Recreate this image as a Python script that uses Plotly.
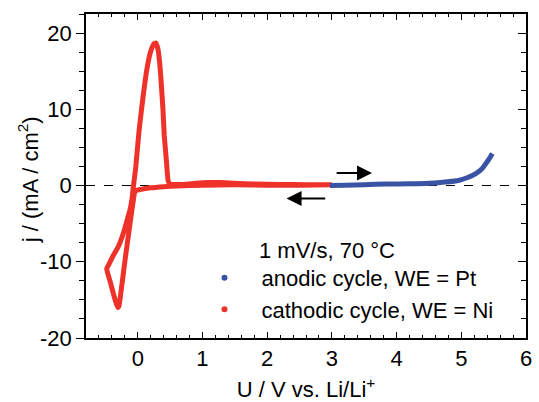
import plotly.graph_objects as go

# Cathodic cycle, WE = Ni (potential V, current density mA/cm2)
cath_u = [3.0, 2.5, 2.0, 1.5, 1.0, 0.6, 0.4, 0.2, 0.05, -0.04,
          -0.07, -0.12, -0.2, -0.26, -0.29, -0.31, -0.35, -0.42, -0.48,
          -0.45, -0.38, -0.3, -0.22, -0.16, -0.12, -0.09, -0.07, -0.03,
          0.02, 0.08, 0.14, 0.2, 0.25, 0.28, 0.31, 0.34, 0.37, 0.39, 0.41,
          0.44, 0.47, 0.5, 0.7, 0.9, 1.1, 1.3, 1.5, 1.8, 2.2, 2.6, 3.0]
cath_j = [0.1, 0.05, 0.05, 0.1, 0.05, -0.05, -0.15, -0.3, -0.5, -0.7,
          -2.0, -5.0, -10.0, -14.0, -15.8, -16.0, -15.0, -12.8, -10.9,
          -10.4, -9.2, -8.0, -6.2, -4.4, -3.2, -1.8, -0.3, 2.5,
          7.2, 11.5, 15.2, 17.6, 18.6, 18.7, 18.0, 16.0, 12.5, 9.9, 6.5,
          3.5, 0.6, 0.2, 0.15, 0.3, 0.4, 0.4, 0.3, 0.2, 0.15, 0.1, 0.1]

# Anodic cycle, WE = Pt
anod_u = [2.97, 3.2, 3.5, 3.84, 4.2, 4.51, 4.75, 4.97, 5.1, 5.23, 5.32, 5.38, 5.43, 5.48]
anod_j = [0.0, 0.03, 0.1, 0.2, 0.22, 0.3, 0.45, 0.7, 1.05, 1.6, 2.2, 2.9, 3.5, 4.2]

x_ticks = [0, 1, 2, 3, 4, 5, 6]
y_ticks = [-20, -10, 0, 10, 20]
y_ticktext = ["-20", "-10", "0", "10", "20"]

red = "#EE3129"
blue = "#3A53A4"
font = "Liberation Sans, Arial, sans-serif"
fs = 22
pad = "\u00a0\u2009"

fig = go.Figure()
fig.add_trace(go.Scatter(x=cath_u, y=cath_j, mode="lines",
                         line=dict(color=red, width=5, shape="spline", smoothing=0.4),
                         showlegend=False, hoverinfo="skip"))
fig.add_trace(go.Scatter(x=anod_u, y=anod_j, mode="lines",
                         line=dict(color=blue, width=5, shape="spline", smoothing=0.6),
                         showlegend=False, hoverinfo="skip"))
# legend entries (dots)
fig.add_trace(go.Scatter(x=[None], y=[None], mode="markers",
                         marker=dict(color=blue, size=6),
                         name=pad + "anodic cycle, WE = Pt"))
fig.add_trace(go.Scatter(x=[None], y=[None], mode="markers",
                         marker=dict(color=red, size=6),
                         name=pad + "cathodic cycle, WE = Ni"))
# invisible trace to anchor right axis
fig.add_trace(go.Scatter(x=[None], y=[None], yaxis="y2", showlegend=False))

fig.add_shape(type="line", xref="x", yref="y", x0=-0.8, x1=6, y0=0, y1=0,
              line=dict(color="black", width=1, dash="dash"), layer="below")

# scan direction arrows
fig.add_annotation(x=3.62, y=1.65, ax=3.05, ay=1.65, xref="x", yref="y",
                   axref="x", ayref="y", showarrow=True, arrowhead=2,
                   arrowsize=1.5, arrowwidth=2, arrowcolor="black", text="")
fig.add_annotation(x=2.3, y=-1.7, ax=2.92, ay=-1.7, xref="x", yref="y",
                   axref="x", ayref="y", showarrow=True, arrowhead=2,
                   arrowsize=1.5, arrowwidth=2, arrowcolor="black", text="")

fig.add_annotation(x=0.3885, y=0.2716, xref="paper", yref="paper",
                   xanchor="left", yanchor="middle", text="1 mV/s, 70 °C",
                   showarrow=False, font=dict(size=fs, color="black", family=font))

# y-axis title
fig.add_annotation(x=-0.131, y=0.488, xref="paper", yref="paper",
                   xanchor="center", yanchor="middle", textangle=-90,
                   text="j / (mA / cm<sup>2</sup>)", showarrow=False,
                   font=dict(size=fs, color="black", family=font))

fig.update_layout(
    width=539, height=402,
    margin=dict(l=86, r=13, t=14, b=64),
    paper_bgcolor="white", plot_bgcolor="white",
    font=dict(family=font, size=fs, color="black"),
    legend=dict(x=0.2545, y=0.2505, xanchor="left", yanchor="top",
                bgcolor="rgba(0,0,0,0)", font=dict(size=fs),
                tracegroupgap=0, itemwidth=43),
    xaxis=dict(range=[-0.8, 6], tickvals=x_ticks, ticks="inside", ticklen=6,
               tickwidth=1.3, tickcolor="black", showline=True, linecolor="black",
               linewidth=1.5, mirror="ticks", showgrid=False, zeroline=False,
               automargin=False,
               minor=dict(dtick=0.2, tick0=0, ticks="inside", ticklen=3.5,
                          tickwidth=1.2, tickcolor="black", showgrid=False),
               title=dict(text="U / V vs. Li/Li<sup>+</sup>", standoff=14,
                          font=dict(size=fs)),
               tickfont=dict(size=fs)),
    yaxis=dict(range=[-20, 22.5], tickvals=y_ticks, ticktext=y_ticktext,
               ticks="outside", ticklen=8, tickwidth=1.3, tickcolor="black",
               showline=True, linecolor="black", linewidth=1.5, mirror=True,
               showgrid=False, zeroline=False, automargin=False,
               minor=dict(dtick=2.5, tick0=0, ticks="outside", ticklen=5,
                          tickwidth=1.2, tickcolor="black", showgrid=False),
               tickfont=dict(size=fs)),
    yaxis2=dict(range=[-20, 22.5], overlaying="y", side="right",
                tickvals=y_ticks, ticks="inside", ticklen=8, tickwidth=1.3,
                tickcolor="black", showticklabels=False, showgrid=False,
                zeroline=False, showline=False, automargin=False,
                minor=dict(dtick=2.5, tick0=0, ticks="inside", ticklen=5,
                           tickwidth=1.2, tickcolor="black", showgrid=False)),
)

fig.write_html("out.html", config={"displayModeBar": False},
               post_script="document.body.style.margin='0';document.body.style.padding='0';")
